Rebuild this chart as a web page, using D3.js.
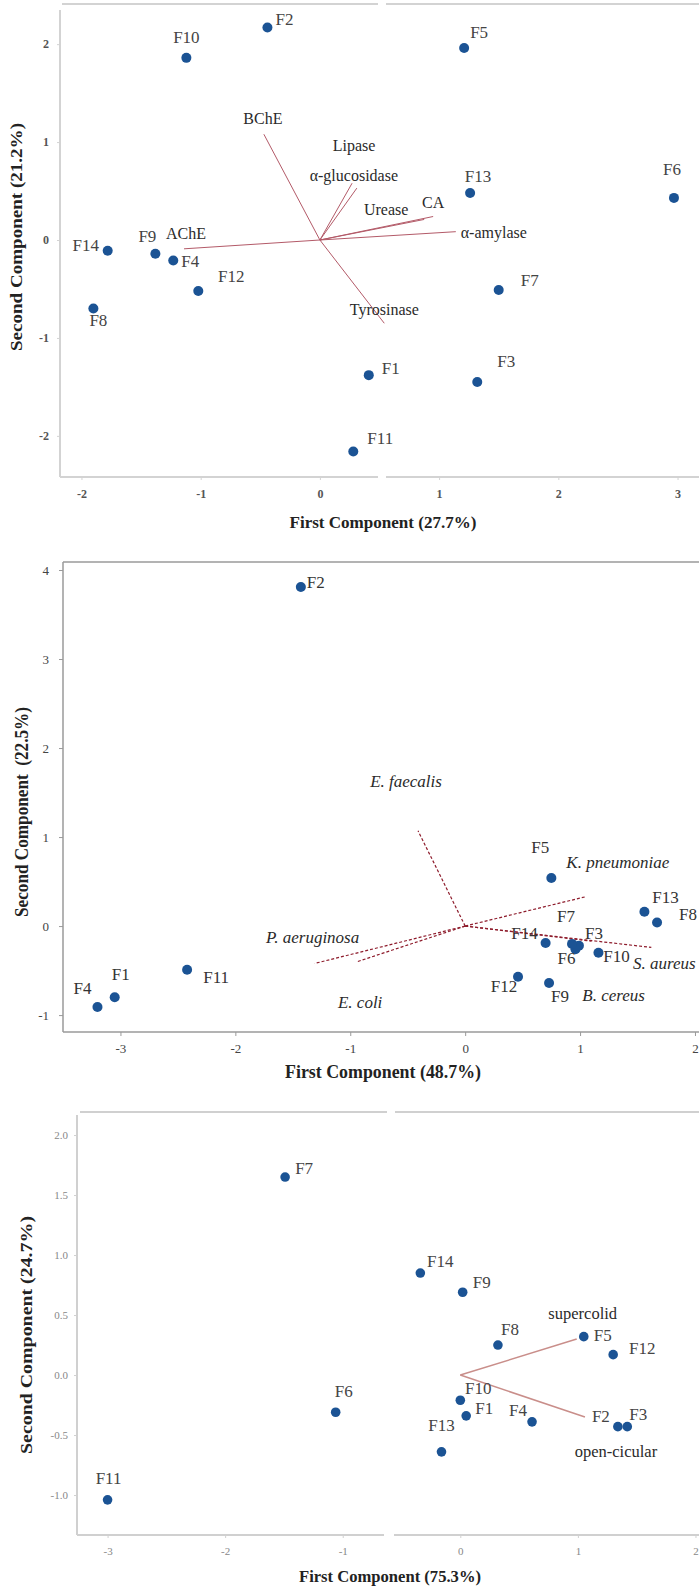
<!DOCTYPE html>
<html>
<head>
<meta charset="utf-8">
<script src="https://cdn.jsdelivr.net/npm/d3@7"></script>
<style>
  html, body { margin: 0; padding: 0; background: #fff; }
  svg { display: block; }
  text { font-family: "Liberation Serif", "Times New Roman", serif; }
</style>
</head>
<body>
<svg id="chart" width="699" height="1589" font-family="Liberation Serif, Times New Roman, serif"></svg>
<script>
// ---- panel 1 : enzyme inhibition PCA ----
const names = ["F1","F2","F3","F4","F5","F6","F7","F8","F9","F10","F11","F12","F13","F14"];

const p1X = [0.41, -0.44, 1.32, -1.23, 1.21, 2.97, 1.50, -1.90, -1.38, -1.12, 0.28, -1.02, 1.26, -1.78];
const p1Y = [-1.38, 2.17, -1.45, -0.21, 1.96, 0.43, -0.51, -0.70, -0.14, 1.86, -2.16, -0.52, 0.48, -0.11];
const p1Vars = ["BChE", "Lipase", "α-glucosidase", "Urease", "CA", "α-amylase", "AChE", "Tyrosinase"];
const p1VarX = [-0.47, 0.27, 0.31, 0.875, 0.95, 1.14, -1.14, 0.54];
const p1VarY = [1.08, 0.58, 0.53, 0.21, 0.24, 0.085, -0.09, -0.85];
const p1XTicks = [-2, -1, 0, 1, 2, 3];
const p1YTicks = [-2, -1, 0, 1, 2];

// ---- panel 2 : antibacterial PCA ----
const p2X = [-3.05, -1.43, 0.99, -3.20, 0.75, 0.96, 0.93, 1.67, 0.73, 1.16, -2.42, 0.46, 1.56, 0.70];
const p2Y = [-0.80, 3.81, -0.22, -0.91, 0.54, -0.26, -0.20, 0.04, -0.64, -0.30, -0.49, -0.57, 0.16, -0.19];
const p2Vars = ["E. faecalis", "K. pneumoniae", "S. aureus", "B. cereus", "P. aeruginosa", "E. coli"];
const p2VarX = [-0.41, 1.05, 1.62, 1.10, -1.31, -0.94];
const p2VarY = [1.07, 0.33, -0.24, -0.17, -0.42, -0.40];
const p2XTicks = [-3, -2, -1, 0, 1, 2];
const p2YTicks = [-1, 0, 1, 2, 3, 4];

// ---- panel 3 : DNA protection PCA ----
const p3X = [0.05, 1.34, 1.42, 0.61, 1.05, -1.06, -1.49, 0.32, 0.02, 0.00, -3.00, 1.30, -0.16, -0.34];
const p3Y = [-0.34, -0.43, -0.43, -0.39, 0.32, -0.31, 1.65, 0.25, 0.69, -0.21, -1.04, 0.17, -0.64, 0.85];
const p3Vars = ["supercolid", "open-cicular"];
const p3VarX = [0.99, 1.06];
const p3VarY = [0.30, -0.35];
const p3XTicks = [-3, -2, -1, 0, 1, 2];
const p3YTicks = [-1.0, -0.5, 0.0, 0.5, 1.0, 1.5, 2.0];

// label offsets (px) from each mark
const p1LabOff = [[22,-5],[17,-6],[29,-19],[17,3],[15,-14],[-2,-27],[31,-8],[5,14],[-8,-16],[0,-19],[27,-11],[33,-13],[8,-15],[-22,-4]];
const p1VarOff = [[-1,-14],[2,-36],[-3,-11],[-38,-8],[0,-12],[38,3],[2,-13],[0,-12]];
const p2LabOff = [[6,-21],[15,-3],[15,-11],[-15,-17],[-11,-29],[-9,11],[-6,-26],[31,-6],[11,15],[18,5],[29,9],[-14,11],[21,-13],[-21,-8]];
const p2VarOff = [[-12,-48],[32,-33],[13,18],[22,56],[-2,-24],[3,42]];
const p3LabOff = [[18,-6],[-17,-9],[11,-11],[-14,-10],[19,0],[8,-19],[19,-7],[12,-14],[19,-8],[18,-10],[1,-20],[29,-5],[0,-25],[20,-10]];
const p3VarOff = [[6,-24],[31,36]];

const svg = d3.select("#chart");
const serif = "Liberation Serif, Times New Roman, serif";
const dotColor = "#1b5394";

function drawPanel(o) {
  const x = d3.scaleLinear().domain(o.xDomain).range([o.left, o.right]);
  const y = d3.scaleLinear().domain(o.yDomain).range([o.bottom, o.top]);
  const g = svg.append("g");

  // frame lines (with the little breaks of the original)
  const segs = o.frame(o);
  g.selectAll("line.frame").data(segs).enter().append("line")
    .attr("x1", d => d[0]).attr("y1", d => d[1])
    .attr("x2", d => d[2]).attr("y2", d => d[3])
    .attr("stroke", o.frameColor).attr("stroke-width", o.frameWidth);

  // axes
  const ax = g.append("g").attr("transform", `translate(0,${o.bottom})`)
    .call(d3.axisBottom(x).tickValues(o.xTicks).tickSize(o.tickLen).tickPadding(o.xPad).tickFormat(o.xFmt));
  const ay = g.append("g").attr("transform", `translate(${o.left},0)`)
    .call(d3.axisLeft(y).tickValues(o.yTicks).tickSize(o.tickLen).tickPadding(o.yPad).tickFormat(o.yFmt));
  [ax, ay].forEach(a => {
    a.attr("font-family", serif);
    a.select(".domain").remove();
    a.selectAll(".tick line").attr("stroke", o.frameColor);
    a.selectAll(".tick text")
      .attr("font-size", o.tickFont).attr("font-weight", o.tickWeight)
      .attr("fill", o.tickColor);
  });

  // loading vectors
  g.selectAll("line.vec").data(o.varX).enter().append("line")
    .attr("x1", x(0)).attr("y1", y(0))
    .attr("x2", d => x(d)).attr("y2", (d, i) => y(o.varY[i]))
    .attr("stroke", o.vecColor).attr("stroke-width", o.vecWidth)
    .attr("stroke-dasharray", o.vecDash);
  g.selectAll("text.var").data(o.vars).enter().append("text")
    .attr("x", (d, i) => x(o.varX[i]) + o.varOff[i][0])
    .attr("y", (d, i) => y(o.varY[i]) + o.varOff[i][1])
    .attr("text-anchor", "middle").attr("dominant-baseline", "middle")
    .attr("font-size", o.varFont).attr("font-style", o.varStyle)
    .attr("fill", "#2a2a2a").text(d => d);

  // scores
  g.selectAll("circle").data(o.xs).enter().append("circle")
    .attr("cx", d => x(d)).attr("cy", (d, i) => y(o.ys[i]))
    .attr("r", o.r).attr("fill", dotColor);
  g.selectAll("text.lab").data(names).enter().append("text")
    .attr("x", (d, i) => x(o.xs[i]) + o.labOff[i][0])
    .attr("y", (d, i) => y(o.ys[i]) + o.labOff[i][1])
    .attr("text-anchor", "middle").attr("dominant-baseline", "middle")
    .attr("font-size", o.labFont).attr("fill", o.labColor).text(d => d);

  // axis titles
  g.append("text").attr("x", o.xTitlePos[0]).attr("y", o.xTitlePos[1])
    .attr("text-anchor", "middle").attr("font-weight", "bold")
    .attr("font-size", o.xTitleFont).attr("fill", "#222")
    .attr("textLength", o.xTitleLen).attr("lengthAdjust", "spacingAndGlyphs")
    .text(o.xTitle);
  g.append("text")
    .attr("transform", `translate(${o.yTitlePos[0]},${o.yTitlePos[1]}) rotate(-90)`)
    .attr("text-anchor", "middle").attr("font-weight", "bold")
    .attr("font-size", o.yTitleFont).attr("fill", "#222")
    .attr("textLength", o.yTitleLen).attr("lengthAdjust", "spacingAndGlyphs")
    .text(o.yTitle);
}

const intFmt = d => String(d);
const decFmt = d => d.toFixed(1);

drawPanel({
  xDomain: [-2.18, 3.18], yDomain: [-2.42, 2.41],
  left: 60, right: 699, top: 4, bottom: 477,
  frame: o => [[o.left, 10, o.left, o.bottom], [o.left, o.bottom, 378, o.bottom], [386, o.bottom, 699, o.bottom],
               [62, o.top, 378, o.top], [386, o.top, 699, o.top]],
  frameColor: "#d3d3d3", frameWidth: 2,
  xTicks: p1XTicks, yTicks: p1YTicks, xFmt: intFmt, yFmt: intFmt,
  tickLen: 3, xPad: 9, yPad: 8, tickFont: 12, tickWeight: "bold", tickColor: "#555",
  vars: p1Vars, varX: p1VarX, varY: p1VarY, varOff: p1VarOff,
  vecColor: "#b35a68", vecWidth: 1, vecDash: null, varFont: 16, varStyle: "normal",
  xs: p1X, ys: p1Y, labOff: p1LabOff, r: 5, labFont: 17, labColor: "#444",
  xTitle: "First Component (27.7%)", xTitlePos: [383, 528], xTitleFont: 17, xTitleLen: 187,
  yTitle: "Second Component (21.2%)", yTitlePos: [22, 237], yTitleFont: 17, yTitleLen: 228
});

drawPanel({
  xDomain: [-3.5, 2.035], yDomain: [-1.19, 4.09],
  left: 63, right: 699, top: 562, bottom: 1032,
  frame: o => [[o.left, o.top, o.left, o.bottom], [o.left, o.bottom, 699, o.bottom], [o.left, o.top, 699, o.top]],
  frameColor: "#9a9a9a", frameWidth: 1.5,
  xTicks: p2XTicks, yTicks: p2YTicks, xFmt: intFmt, yFmt: intFmt,
  tickLen: 4, xPad: 8, yPad: 10, tickFont: 13, tickWeight: "normal", tickColor: "#444",
  vars: p2Vars, varX: p2VarX, varY: p2VarY, varOff: p2VarOff,
  vecColor: "#8e1c2c", vecWidth: 1.2, vecDash: "3,2", varFont: 17, varStyle: "italic",
  xs: p2X, ys: p2Y, labOff: p2LabOff, r: 5, labFont: 17, labColor: "#333",
  xTitle: "First Component (48.7%)", xTitlePos: [383, 1078], xTitleFont: 18, xTitleLen: 196,
  yTitle: "Second Component \u00a0(22.5%)", yTitlePos: [28, 812], yTitleFont: 18, yTitleLen: 210
});

drawPanel({
  xDomain: [-3.26, 2.03], yDomain: [-1.333, 2.167],
  left: 77, right: 699, top: 1115, bottom: 1535,
  frame: o => [[o.left, o.top, o.left, o.bottom], [o.left, o.bottom, 384, o.bottom], [394, o.bottom, 699, o.bottom],
               [80, o.top - 3, 387, o.top - 3], [395, o.top - 3, 699, o.top - 3]],
  frameColor: "#d0d0d0", frameWidth: 2,
  xTicks: p3XTicks, yTicks: p3YTicks, xFmt: intFmt, yFmt: decFmt,
  tickLen: 3, xPad: 9, yPad: 6, tickFont: 11, tickWeight: "normal", tickColor: "#888",
  vars: p3Vars, varX: p3VarX, varY: p3VarY, varOff: p3VarOff,
  vecColor: "#c98e8a", vecWidth: 1.5, vecDash: null, varFont: 16.5, varStyle: "normal",
  xs: p3X, ys: p3Y, labOff: p3LabOff, r: 4.8, labFont: 17, labColor: "#444",
  xTitle: "First Component (75.3%)", xTitlePos: [390, 1582], xTitleFont: 17, xTitleLen: 182,
  yTitle: "Second Component (24.7%)", yTitlePos: [32, 1335], yTitleFont: 16, yTitleLen: 238
});
</script>
</body>
</html>
